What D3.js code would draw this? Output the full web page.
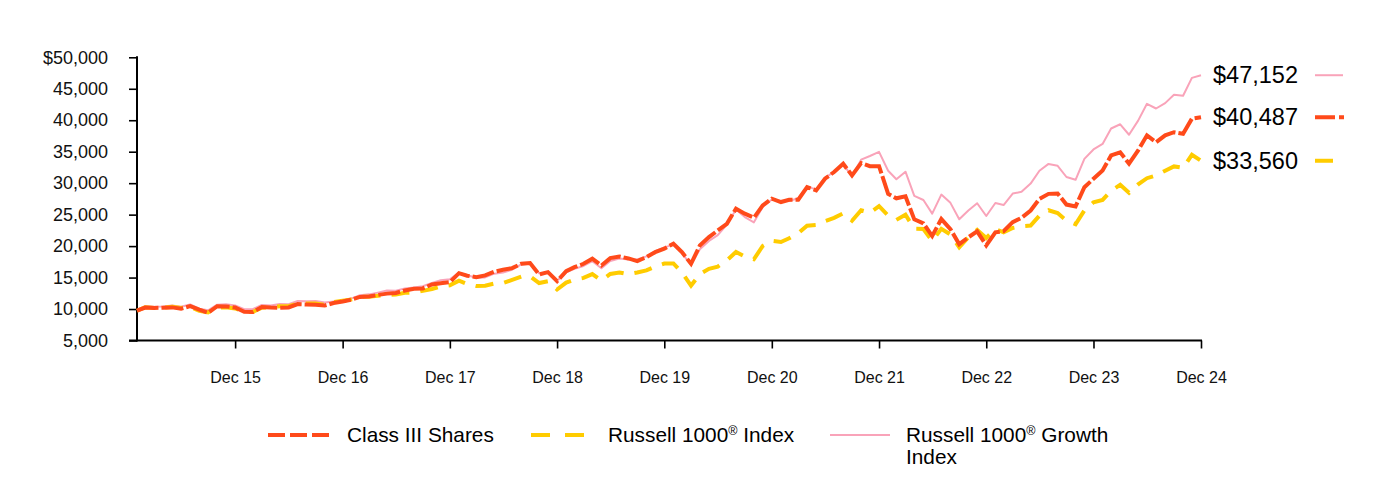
<!DOCTYPE html>
<html>
<head>
<meta charset="utf-8">
<script src="https://cdn.jsdelivr.net/npm/d3@7"></script>
<style>
  html, body { margin: 0; padding: 0; background: #fff; }
  svg { display: block; font-family: "Liberation Sans", Arial, sans-serif; }
</style>
</head>
<body>
<svg id="chart" width="1384" height="477"></svg>
<script>
// ---- Data (growth of $10,000, month-end values Jan 2015 – Dec 2024) ----
const startMonth = "2015-01";
const endMonth = "2024-12";

const classIII = [
  9750,10230,10170,10220,10260,10050,10470,9900,9400,10450,10400,10260,
  9550,9530,10320,10230,10200,10250,10780,10720,10680,10560,10950,11200,
  11500,11920,11980,12240,12450,12560,12950,13220,13270,13900,14110,14270,
  15700,15290,15070,15340,15920,16240,16500,17190,17300,15500,15860,14430,
  16020,16660,17190,17990,16930,18090,18360,18040,17610,18250,19040,19580,
  20380,19040,17190,20100,21430,22490,23550,25940,25150,24510,26470,27530,
  27000,27370,27370,29380,28850,30710,31770,33090,31240,33190,32700,32700,
  28300,27600,27900,24250,23620,21600,24300,22700,20300,21400,22350,20100,
  22200,22380,23800,24500,25650,27500,28300,28350,26600,26300,29350,30700,
  32000,34400,34900,33100,35200,37600,36500,37600,38100,37850,40250,40487
];

const russell1000 = [
  9725,10288,10159,10231,10365,10157,10352,9727,9460,10226,10280,10092,
  9549,9537,10204,10259,10437,10459,10863,10864,10870,10650,11090,11308,
  11530,11960,11970,12100,12230,12320,12570,12610,12880,13180,13590,13761,
  14516,13985,13657,13705,14042,14133,14629,15135,15199,14127,14408,13103,
  14201,14693,14946,15550,14559,15581,15818,15533,15802,16138,16748,17221,
  17240,15823,13733,15547,16379,16743,17726,19064,18361,17909,20024,20831,
  20650,21240,22060,23250,23370,23960,24480,25200,24030,25700,25310,26341,
  24855,24167,24981,22755,22716,20813,22743,21838,19818,21411,22574,21302,
  22727,22186,22883,23146,23255,24836,25690,25246,24057,23475,25667,26954,
  27334,28805,29733,28463,29801,30787,31237,31977,32661,32432,34514,33560
];

const russell1000Growth = [
  9838,10492,10361,10408,10565,10368,10717,10054,9797,10697,10745,10567,
  9985,9968,10641,10566,10811,10778,11274,11226,11277,11022,11192,11315,
  11700,12190,12330,12610,12930,12900,13250,13440,13630,14160,14590,14733,
  15790,15380,14970,15020,15620,15790,16250,17090,17190,15660,15830,14511,
  15816,16380,16847,17600,16490,17622,18021,17878,17869,18373,19182,19792,
  20235,18857,17001,19517,20827,21733,23409,25825,24609,23772,26202,27410,
  27186,27167,27610,29447,29015,30829,31815,32972,31083,33743,34322,34975,
  31975,30625,31822,27978,27329,25165,28185,26871,24259,25668,26813,24783,
  26847,26530,28345,28628,29934,31982,33060,32762,30980,30540,33860,35360,
  36232,38690,39357,37694,39934,42608,41864,42719,44062,43895,46726,47152
];

const xTickLabels = ["Dec 15","Dec 16","Dec 17","Dec 18","Dec 19","Dec 20","Dec 21","Dec 22","Dec 23","Dec 24"];
const yTickValues = [5000,10000,15000,20000,25000,30000,35000,40000,45000,50000];
const endLabels = ["$47,152","$40,487","$33,560"];

(function () {
// ---- Setup ----
const svg = d3.select("#chart");
const parseMonth = d3.timeParse("%Y-%m");
const monthStarts = d3.timeMonth.range(parseMonth(startMonth), d3.timeMonth.offset(parseMonth(endMonth), 1));
const dates = monthStarts.map(d => d3.timeDay.offset(d3.timeMonth.offset(d, 1), -1));

const pLeft = 137, pRight = 1201, pTop = 57.3, pBottom = 340.5;
const x = d3.scaleTime().domain([dates[0], dates[dates.length - 1]]).range([pLeft, pRight]);
const y = d3.scaleLinear().domain([5000, 50000]).range([pBottom, pTop]);

const colors = { fund: "#FF4A1A", r1000: "#FFCC00", growth: "#F9A3B9" };

// ---- Axes ----
const xTickDates = dates.filter(d => d.getMonth() === 11);
const xAxis = d3.axisBottom(x)
  .tickValues(xTickDates)
  .tickSize(8)
  .tickSizeOuter(0)
  .tickPadding(23)
  .tickFormat((d, i) => xTickLabels[i]);
const yAxis = d3.axisLeft(y)
  .tickValues(yTickValues)
  .tickSize(8)
  .tickSizeOuter(0)
  .tickPadding(21)
  .tickFormat(d => d === 50000 ? "$" + d3.format(",")(d) : d3.format(",")(d));

const gx = svg.append("g").attr("transform", `translate(0,${pBottom})`).call(xAxis);
gx.select(".domain").remove();
gx.selectAll(".tick line").attr("stroke", "#000").attr("stroke-width", 1.6);
gx.selectAll(".tick text").attr("fill", "#111").style("font-size", "16px");

const gy = svg.append("g").attr("transform", `translate(${pLeft},0)`).call(yAxis);
gy.select(".domain").remove();
gy.selectAll(".tick line").attr("stroke", "#000").attr("stroke-width", 1.6);
gy.selectAll(".tick text").attr("fill", "#111").style("font-size", "18px");

// axis lines
svg.append("line").attr("x1", pLeft).attr("x2", pLeft).attr("y1", pTop - 1).attr("y2", pBottom + 1)
  .attr("stroke", "#000").attr("stroke-width", 2);
svg.append("line").attr("x1", pLeft - 8).attr("x2", pRight + 1).attr("y1", pBottom).attr("y2", pBottom)
  .attr("stroke", "#000").attr("stroke-width", 2);

// ---- Lines ----
const line = d3.line().x((d, i) => x(dates[i])).y(d => y(d));

svg.append("path").datum(russell1000Growth)
  .attr("d", line).attr("fill", "none")
  .attr("stroke", colors.growth).attr("stroke-width", 2)
  .attr("stroke-linejoin", "round");

svg.append("path").datum(russell1000)
  .attr("d", line).attr("fill", "none")
  .attr("stroke", colors.r1000).attr("stroke-width", 4)
  .attr("stroke-dasharray", "18,11");

svg.append("path").datum(classIII)
  .attr("d", line).attr("fill", "none")
  .attr("stroke", colors.fund).attr("stroke-width", 4)
  .attr("stroke-dasharray", "22,3");

// ---- End labels with swatches ----
const ends = [
  { label: endLabels[0], v: russell1000Growth[russell1000Growth.length - 1], color: colors.growth, w: 2, dash: null, len: 28 },
  { label: endLabels[1], v: classIII[classIII.length - 1], color: colors.fund, w: 4, dash: "20,4,6,4", len: 29 },
  { label: endLabels[2], v: russell1000[russell1000.length - 1], color: colors.r1000, w: 4, dash: null, len: 18 }
];
ends.forEach(e => {
  const yy = y(e.v);
  svg.append("text").attr("x", 1213).attr("y", yy).attr("dy", "0.35em")
    .attr("fill", "#000").style("font-size", "23.5px").text(e.label);
  const l = svg.append("line").attr("x1", 1315).attr("x2", 1315 + e.len).attr("y1", yy).attr("y2", yy)
    .attr("stroke", e.color).attr("stroke-width", e.w);
  if (e.dash) l.attr("stroke-dasharray", e.dash);
});

// ---- Legend ----
const legY = 435;
const leg = svg.append("g").style("font-size", "20.8px").attr("fill", "#000");
leg.append("line").attr("x1", 268).attr("x2", 330).attr("y1", legY).attr("y2", legY)
  .attr("stroke", colors.fund).attr("stroke-width", 4).attr("stroke-dasharray", "17,5");
leg.append("text").attr("x", 347).attr("y", legY).attr("dy", "0.35em").text("Class III Shares");

leg.append("line").attr("x1", 531).attr("x2", 584).attr("y1", legY).attr("y2", legY)
  .attr("stroke", colors.r1000).attr("stroke-width", 4).attr("stroke-dasharray", "19,15");
const t2 = leg.append("text").attr("x", 608).attr("y", legY).attr("dy", "0.35em");
t2.append("tspan").text("Russell 1000");
t2.append("tspan").attr("dy", -7).style("font-size", "12.5px").text("®");
t2.append("tspan").attr("dy", 7).text(" Index");

leg.append("line").attr("x1", 830).attr("x2", 890).attr("y1", legY).attr("y2", legY)
  .attr("stroke", colors.growth).attr("stroke-width", 2);
const t3 = leg.append("text").attr("x", 906).attr("y", legY).attr("dy", "0.35em");
t3.append("tspan").text("Russell 1000");
t3.append("tspan").attr("dy", -7).style("font-size", "12.5px").text("®");
t3.append("tspan").attr("dy", 7).text(" Growth");
leg.append("text").attr("x", 906).attr("y", legY + 22).attr("dy", "0.35em").text("Index");
})();
</script>
</body>
</html>
